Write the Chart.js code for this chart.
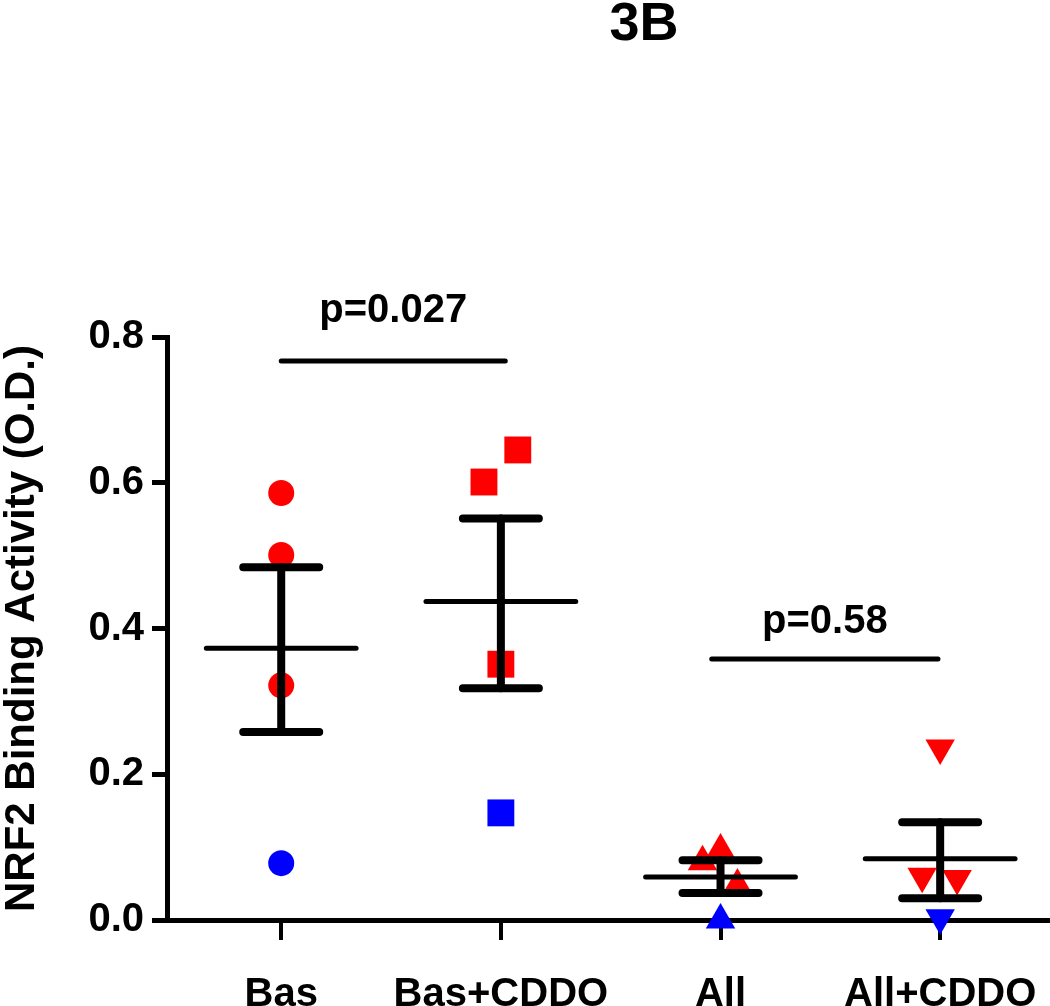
<!DOCTYPE html>
<html><head><meta charset="utf-8">
<script src="https://cdn.jsdelivr.net/npm/chart.js@4.4.1/dist/chart.umd.min.js"></script>
<style>html,body{margin:0;padding:0;background:#fff;overflow:hidden}canvas{display:block}</style>
</head><body>
<canvas id="c" width="1050" height="1006"></canvas>
<script>
// ---------- data ----------
const chartTitle = '3B';
const yAxisTitle = 'NRF2 Binding Activity (O.D.)';
const categories = ['Bas', 'Bas+CDDO', 'All', 'All+CDDO'];
const yTicks = [0.0, 0.2, 0.4, 0.6, 0.8];

const basValues      = [0.586, 0.501, 0.322, 0.078];
const basCddoValues  = [0.645, 0.601, 0.351, 0.147];
const allValues      = [0.080, 0.096, 0.048, 0.000];
const allCddoValues  = [0.236, 0.060, 0.057, 0.003];
const pointColorKey  = ['red', 'red', 'red', 'blue']; // last subject shown in blue

// horizontal scatter offsets (category units)
const basJitter      = [0, 0, 0, 0];
const basCddoJitter  = [0.077, -0.077, 0, 0];
const allJitter      = [-0.082, 0, 0.077, 0];
const allCddoJitter  = [0, -0.082, 0.077, 0];

const means  = [0.373, 0.437, 0.059, 0.084];
const upper  = [0.484, 0.551, 0.082, 0.134];
const lower  = [0.258, 0.318, 0.037, 0.030];

const pLabels = ['p=0.027', 'p=0.58'];
const pLineY  = [0.767, 0.358];
const pTextY  = [0.821, 0.394];
const pFrom   = [0, 1.96];
const pTo     = [1.02, 2.99];

// ---------- styles ----------
const FONT = '"Liberation Sans", Arial, Helvetica, sans-serif';
const RED = '#ff0000', BLUE = '#0000ff';
const colorOf = k => k === 'red' ? RED : BLUE;
const MEAN_HALF = 0.341, CAP_HALF = 0.173;

function segs(list) {
  const out = [];
  list.forEach(s => { out.push({x: s[0], y: s[1]}, {x: s[2], y: s[3]}, {x: s[2], y: null}); });
  return out;
}
function lineDs(data, width) {
  return {type: 'line', data, borderColor: '#000', borderWidth: width, pointRadius: 0,
    pointHoverRadius: 0, tension: 0, spanGaps: false, fill: false, clip: false,
    borderCapStyle: 'round'};
}
function pointDs(vals, jit, i, style, rot, radius) {
  return {type: 'scatter', data: vals.map((v, k) => ({x: i + jit[k], y: v})),
    pointStyle: style, rotation: rot, pointRadius: radius, pointHoverRadius: radius,
    pointBackgroundColor: pointColorKey.map(colorOf), pointBorderColor: pointColorKey.map(colorOf),
    pointBorderWidth: 0, showLine: false, clip: false};
}

const meanSegs = segs(means.map((m, i) => [i - MEAN_HALF, m, i + MEAN_HALF, m]));
const capSegs = segs([].concat(
  upper.map((u, i) => [i - CAP_HALF, u, i + CAP_HALF, u]),
  lower.map((l, i) => [i - CAP_HALF, l, i + CAP_HALF, l])));
const stemSegs = segs(means.map((m, i) => [i, lower[i], i, upper[i]]));
const pSegs = segs(pLabels.map((p, i) => [pFrom[i], pLineY[i], pTo[i], pLineY[i]]));

const datasets = [
  lineDs(capSegs, 8),
  lineDs(stemSegs, 8),
  lineDs(meanSegs, 5),
  lineDs(pSegs, 5),
  pointDs(basValues, basJitter, 0, 'circle', 0, 13),
  pointDs(basCddoValues, basCddoJitter, 1, 'rect', 0, 19),
  pointDs(allValues, allJitter, 2, 'triangle', 0, 17),
  pointDs(allCddoValues, allCddoJitter, 3, 'triangle', 180, 17)
];

const textPlugin = {
  id: 'texts',
  afterDraw(chart) {
    const ctx = chart.ctx, xs = chart.scales.x, ys = chart.scales.y;
    ctx.save();
    ctx.fillStyle = '#000';
    ctx.textAlign = 'center';
    ctx.textBaseline = 'alphabetic';
    ctx.font = 'bold 54px ' + FONT;
    ctx.fillText(chartTitle, 644, 40);
    ctx.font = 'bold 40px ' + FONT;
    pLabels.forEach((p, i) => {
      const cx = (xs.getPixelForValue(pFrom[i]) + xs.getPixelForValue(pTo[i])) / 2;
      ctx.fillText(p, cx, ys.getPixelForValue(pTextY[i]));
    });
    ctx.restore();
  }
};

new Chart(document.getElementById('c'), {
  type: 'scatter',
  data: {datasets},
  plugins: [textPlugin],
  options: {
    responsive: false,
    animation: false,
    events: [],
    layout: {autoPadding: false, padding: {top: 337, right: 0, left: 0, bottom: 0}},
    plugins: {legend: {display: false}, tooltip: {enabled: false}, title: {display: false}},
    scales: {
      x: {
        type: 'linear', min: -0.52, max: 3.5,
        afterBuildTicks: s => { s.ticks = categories.map((c, i) => ({value: i})); },
        afterFit: s => { s.height = 86; s.paddingLeft = 0; s.paddingRight = 0; },
        ticks: {callback: v => categories[v] ?? '', color: '#000', autoSkip: false, maxRotation: 0,
          padding: 31, font: {family: FONT, size: 40, weight: 'bold'}},
        grid: {drawOnChartArea: false, drawTicks: true, tickLength: 20, color: '#000', lineWidth: 4},
        border: {display: true, color: '#000', width: 5}
      },
      y: {
        type: 'linear', min: 0, max: 0.8,
        afterBuildTicks: s => { s.ticks = yTicks.map(v => ({value: v})); },
        afterFit: s => { s.width = 167; s.paddingTop = 0; s.paddingBottom = 0; },
        ticks: {callback: v => v.toFixed(1), color: '#000', padding: 8,
          font: {family: FONT, size: 40, weight: 'bold'}},
        grid: {drawOnChartArea: false, drawTicks: true, tickLength: 15, color: '#000', lineWidth: 5},
        border: {display: true, color: '#000', width: 5},
        title: {display: true, text: yAxisTitle, color: '#000', padding: {top: 1, bottom: 1},
          font: {family: FONT, size: 42, weight: 'bold', lineHeight: 1}}
      }
    }
  }
});
</script>
</body></html>
